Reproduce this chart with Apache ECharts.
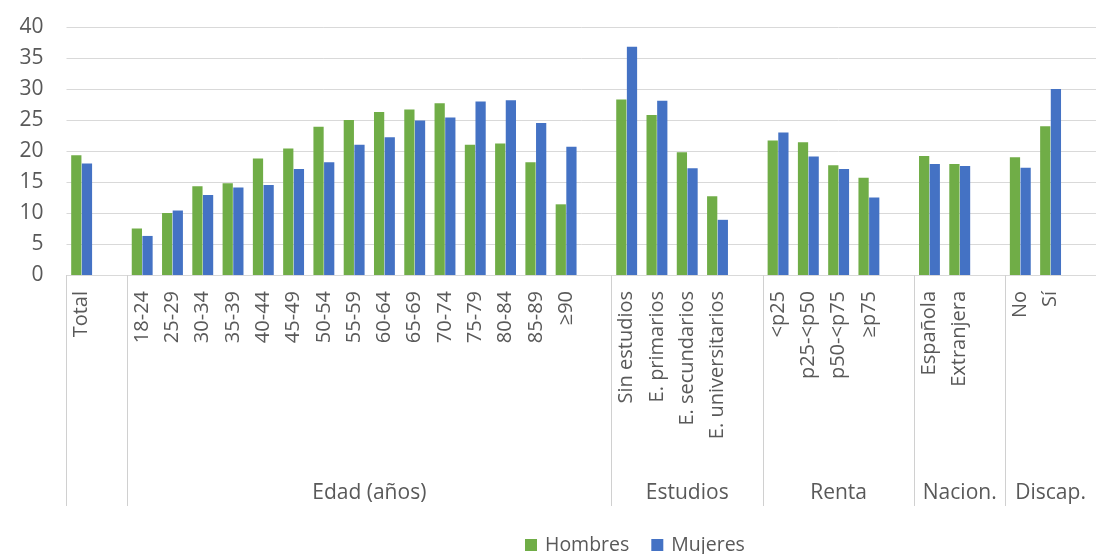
<!DOCTYPE html>
<html>
<head>
<meta charset="utf-8">
<script src="https://cdn.jsdelivr.net/npm/echarts@6/dist/echarts.min.js"></script>
<style>
  html, body { margin: 0; padding: 0; background: #ffffff; }
  #chart { width: 1096px; height: 554px; }
</style>
</head>
<body>
<div id="chart"></div>
<script>
// Group titles shown under the category labels (the first group has none)
const groupNames = ['', 'Edad (años)', 'Estudios', 'Renta', 'Nacion.', 'Discap.'];

// Category labels of each group
const catTotal = ['Total'];
const catEdad = ['18-24', '25-29', '30-34', '35-39', '40-44', '45-49', '50-54', '55-59',
                 '60-64', '65-69', '70-74', '75-79', '80-84', '85-89', '≥90'];
const catEstudios = ['Sin estudios', 'E. primarios', 'E. secundarios', 'E. universitarios'];
const catRenta = ['<p25', 'p25-<p50', 'p50-<p75', '≥p75'];
const catNacion = ['Española', 'Extranjera'];
const catDiscap = ['No', 'Sí'];

// Values for men, by group
const hombresTotal = [19.3];
const hombresEdad = [7.5, 10.0, 14.3, 14.8, 18.8, 20.4, 23.9, 25.0, 26.3, 26.7, 27.7, 21.0, 21.2, 18.2, 11.4];
const hombresEstudios = [28.3, 25.8, 19.8, 12.7];
const hombresRenta = [21.7, 21.4, 17.7, 15.7];
const hombresNacion = [19.2, 17.9];
const hombresDiscap = [19.0, 24.0];

// Values for women, by group
const mujeresTotal = [18.0];
const mujeresEdad = [6.3, 10.4, 12.9, 14.1, 14.5, 17.1, 18.2, 21.0, 22.2, 24.9, 25.4, 28.0, 28.2, 24.5, 20.7];
const mujeresEstudios = [36.8, 28.1, 17.2, 8.9];
const mujeresRenta = [23.0, 19.1, 17.1, 12.5];
const mujeresNacion = [17.9, 17.6];
const mujeresDiscap = [17.3, 30.0];

// Y axis ticks
const yTicks = [0, 5, 10, 15, 20, 25, 30, 35, 40];

const groupCats = [catTotal, catEdad, catEstudios, catRenta, catNacion, catDiscap];
const groupH = [hombresTotal, hombresEdad, hombresEstudios, hombresRenta, hombresNacion, hombresDiscap];
const groupM = [mujeresTotal, mujeresEdad, mujeresEstudios, mujeresRenta, mujeresNacion, mujeresDiscap];

// Flatten groups, leaving one empty slot after each group
const categories = [], hombres = [], mujeres = [];
const boundaries = [], centers = {};
groupCats.forEach((cats, g) => {
  const start = categories.length;
  boundaries.push(start);
  cats.forEach((c, i) => {
    categories.push(c);
    hombres.push(groupH[g][i]);
    mujeres.push(groupM[g][i]);
  });
  categories.push('');
  hombres.push(null);
  mujeres.push(null);
  const end = categories.length;
  if (groupNames[g]) centers[(start + end) / 2] = groupNames[g];
});
const slotCount = categories.length;

const textColor = '#595959';
const fontFamily = '"Open Sans", "Noto Sans", sans-serif';

const chart = echarts.init(document.getElementById('chart'), null, { renderer: 'canvas' });
chart.setOption({
  animation: false,
  textStyle: { fontFamily: fontFamily },
  grid: { left: 66.5, right: -11, top: 27, bottom: 279, containLabel: false },
  legend: {
    left: 520, top: 530,
    itemWidth: 12, itemHeight: 12, itemGap: 22,
    icon: 'rect',
    textStyle: {
      color: textColor, fontSize: 19.5, lineHeight: 20,
      fontFamily: fontFamily, padding: [0, 0, 0, 3]
    },
    data: ['Hombres', 'Mujeres']
  },
  xAxis: [
    {
      type: 'category',
      data: categories,
      axisLine: { show: true, lineStyle: { color: '#d9d9d9' } },
      axisTick: { show: false },
      axisLabel: {
        interval: 0, rotate: 90, margin: 16,
        color: textColor, fontSize: 20, fontFamily: fontFamily
      }
    },
    {
      // Group separators and titles along the category axis
      type: 'value',
      position: 'bottom',
      min: 0, max: slotCount,
      axisLine: { show: false },
      splitLine: { show: false },
      axisTick: {
        show: true, length: 231, customValues: boundaries,
        lineStyle: { color: '#d0d0d0', width: 1 }
      },
      axisLabel: {
        show: true, margin: 208,
        customValues: Object.keys(centers).map(Number),
        formatter: v => centers[v] || '',
        color: textColor, fontSize: 21, fontFamily: fontFamily
      }
    }
  ],
  yAxis: {
    type: 'value',
    min: yTicks[0], max: yTicks[yTicks.length - 1], interval: yTicks[1] - yTicks[0],
    axisLine: { show: false },
    axisTick: { show: false },
    splitLine: { lineStyle: { color: '#d9d9d9', width: 1 } },
    axisLabel: { color: textColor, fontSize: 21, margin: 23, fontFamily: fontFamily }
  },
  series: [
    {
      name: 'Hombres', type: 'bar', data: hombres,
      barGap: '4%', barCategoryGap: '31%',
      itemStyle: { color: '#70AD47' }
    },
    {
      name: 'Mujeres', type: 'bar', data: mujeres,
      barGap: '4%', barCategoryGap: '31%',
      itemStyle: { color: '#4472C4' }
    }
  ]
});
</script>
</body>
</html>
